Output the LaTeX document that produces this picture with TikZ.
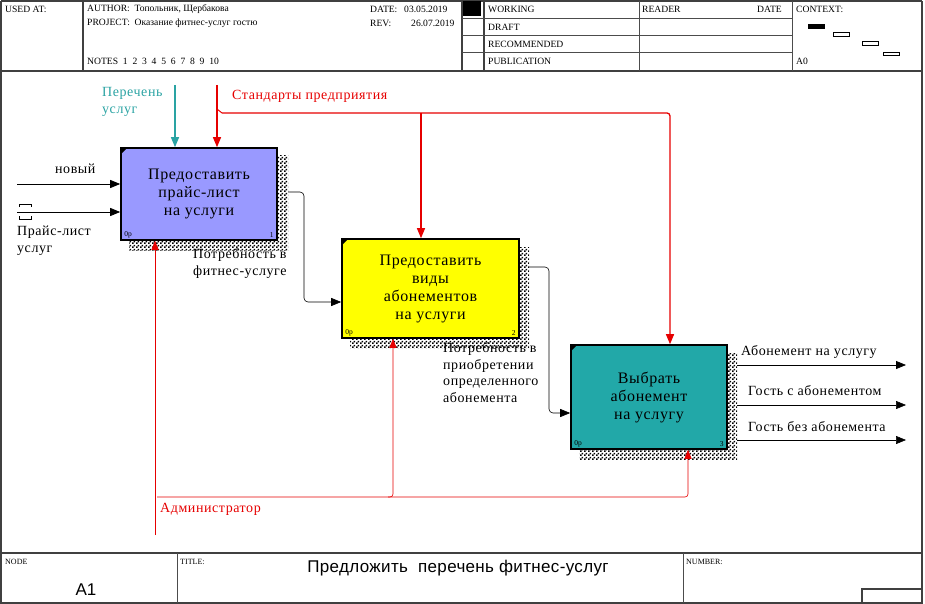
\documentclass[tikz,border=0pt]{standalone}
\usepackage{fontspec}
\setmainfont{Liberation Serif}
\newfontfamily\arialf{Liberation Sans}
\usetikzlibrary{arrows.meta,patterns.meta}
\definecolor{boxA}{HTML}{9999FF}
\definecolor{boxB}{HTML}{FFFF00}
\definecolor{boxC}{HTML}{22A8A8}
\definecolor{tealtxt}{HTML}{2AA3A3}
\definecolor{redc}{HTML}{E60000}
\tikzdeclarepattern{
  name=chk,
  type=uncolored,
  bounding box={(0pt,0pt) and (4pt,4pt)},
  tile size={(4pt,4pt)},
  code={\fill (0pt,0pt) rectangle (2pt,2pt); \fill (2pt,2pt) rectangle (4pt,4pt);}
}
\tikzset{
  frm/.style={draw=black!75, line width=1.2pt},
  thin/.style={draw=black!70, line width=0.6pt},
  hdr/.style={anchor=west, inner sep=0pt, font=\fontsize{9.6}{11}\selectfont},
  proc/.style={draw=black, line width=1.6pt, align=center, inner sep=0pt,
     font=\fontsize{16}{18}\selectfont\addfontfeatures{LetterSpace=4}},
  arr/.style={-{Triangle[length=10pt,width=8pt]}, line width=0.8pt},
  ctl/.style={-{Triangle[length=10pt,width=8pt]}, line width=1.3pt, draw=redc, color=redc},
  mech/.style={line width=0.6pt, draw=redc!85},
  mecharr/.style={mech, -{Triangle[length=9pt,width=7pt]}, color=redc},
  lbl/.style={inner sep=0pt, align=left, font=\fontsize{14}{16.8}\selectfont\addfontfeatures{LetterSpace=4}},
  small/.style={inner sep=0pt, font=\fontsize{7.5}{8}\selectfont}
}
\begin{document}
\begin{tikzpicture}[x=1pt,y=-1pt]
\useasboundingbox (0,0) rectangle (925,604);
% ---------- frame ----------
\draw[frm] (1,1) -- (922,1);
\draw[frm] (1,1) -- (1,604);
\draw[frm] (922,1) -- (922,604);
\draw[frm] (1,71) -- (922,71);
\draw[frm] (83,1) -- (83,71);
\draw[frm] (462,1) -- (462,71);
\draw[frm] (484,1) -- (484,71);
\draw[thin] (639,1) -- (639,71);
\draw[thin] (792,1) -- (792,71);
\foreach \yy in {18,35,52} \draw[thin] (462,\yy) -- (792,\yy);
\fill (463,1) rectangle (481,16);
% context
\fill (808,24) rectangle (825,29);
\draw[line width=0.8pt] (833,32) rectangle (849,36);
\draw[line width=0.8pt] (862,41) rectangle (878,45);
\draw[line width=0.8pt] (883,52) rectangle (899,55);
% header texts
\node[hdr] (usedat) at (5,9) {USED AT:};
\node[hdr] (author) at (87,9) {AUTHOR:\ \ Топольник, Щербакова};
\node[hdr] (project) at (87,23) {PROJECT:\ \ Оказание фитнес-услуг гостю};
\node[hdr] (notes) at (87,61) {NOTES\ \ 1\ \ 2\ \ 3\ \ 4\ \ 5\ \ 6\ \ 7\ \ 8\ \ 9\ \ 10};
\node[hdr] (date) at (370,9) {DATE:};
\node[hdr] (dateval) at (404,9) {03.05.2019};
\node[hdr] (rev) at (370,23) {REV:};
\node[hdr] (revval) at (411,23) {26.07.2019};
\node[hdr] (working) at (488,9) {WORKING};
\node[hdr] (draft) at (488,27) {DRAFT};
\node[hdr] (recom) at (488,44) {RECOMMENDED};
\node[hdr] (publ) at (488,61) {PUBLICATION};
\node[hdr] (reader) at (642,9) {READER};
\node[hdr] (rdate) at (757,9) {DATE};
\node[hdr] (context) at (796,9) {CONTEXT:};
\node[hdr] (a0) at (796,61) {A0};
% ---------- footer ----------
\draw[frm] (1,553) -- (922,553);
\draw[frm] (1,603) -- (922,603);
\draw[thin] (177,553) -- (177,603);
\draw[thin] (683,553) -- (683,603);
\draw[frm] (862,603) -- (862,589) -- (922,589);
\node[hdr, font=\fontsize{8}{9}\selectfont] (nodelbl) at (5,562) {NODE};
\node[hdr, font=\fontsize{8}{9}\selectfont] (titlelbl) at (180,562) {TITLE:};
\node[hdr, font=\fontsize{8}{9}\selectfont] (numlbl) at (686,562) {NUMBER:};
\node[inner sep=0pt, font=\arialf\fontsize{17}{20}\selectfont] (a1) at (86,590) {A1};
\node[inner sep=0pt, font=\arialf\fontsize{17}{20}\selectfont\addfontfeatures{LetterSpace=2}] (title) at (458,568) {Предложить\ \ перечень фитнес-услуг};
% ---------- shadows ----------
\fill[pattern=chk] (129,156) rectangle (288,250);
\fill[pattern=chk] (350,247) rectangle (529,348);
\fill[pattern=chk] (579,353) rectangle (737,459);
% ---------- boxes ----------
\node[proc, fill=boxA, minimum width=156pt, minimum height=92pt] (b1) at (199,194)
  {Предоставить\\прайс-лист\\на услуги};
\node[proc, fill=boxB, minimum width=177pt, minimum height=99pt] (b2) at (430.5,288.5)
  {Предоставить\\виды\\абонементов\\на услуги};
\node[proc, fill=boxC, minimum width=156pt, minimum height=104pt] (b3) at (649,397)
  {Выбрать\\абонемент\\на услугу};
\foreach \b/\n in {b1/1,b2/2,b3/3}{
  \fill ([shift={(0.8,0.8)}]\b.north west) -- ++(6,0) -- ++(-6,6) -- cycle;
  \node[small, anchor=south west] at ([shift={(4,-3)}]\b.south west) {0р};
  \node[small, anchor=south east] at ([shift={(-4,-3)}]\b.south east) {\n};
}
% ---------- inputs ----------
\coordinate (in1) at (17,184);
\coordinate (in2) at (17,212);
\draw[arr] (in1) -- (b1.west |- in1);
\draw[arr] (in2) -- (b1.west |- in2);
\draw[line width=0.8pt] (19,207) -- (19,204) -- (31,204) -- (31,207);
\draw[line width=0.8pt] (19,216) -- (19,219) -- (31,219) -- (31,216);
\node[lbl, anchor=base west] (lnew) at (55,174) {новый};
\node[lbl, anchor=north west] (lprice) at (17,226) {Прайс-лист\\услуг};
% ---------- controls ----------
\coordinate (c1) at (175,85);
\coordinate (c2) at (217,85);
\draw[arr, draw=tealtxt, color=tealtxt, line width=1.3pt] (c1) -- (b1.north -| c1);
\draw[ctl] (c2) -- (b1.north -| c2);
\coordinate (cb) at (222,113);
\coordinate (cbr) at (670,113);
\draw[ctl, rounded corners=3] (cb) -- (cbr) -- (b3.north -| cbr);
\draw[ctl] (cb -| 421,0) -- (b2.north -| 421,0);
\draw[redc, line width=1pt] (217,109) -- (222,113);
\node[lbl, anchor=north west, color=tealtxt] (lper) at (102,87) {Перечень\\услуг};
\node[lbl, anchor=base west, color=redc] (lstd) at (232,100) {Стандарты предприятия};
% ---------- outputs ----------
\coordinate (o1) at (288,192);
\draw[arr, line width=0.6pt, rounded corners=4] (o1) -- (304,192) -- (304,302) -- (b2.west |- 0,302);
\node[lbl, anchor=north west] (lneed1) at (193,248) {Потребность в\\фитнес-услуге};
\coordinate (o2) at (529,267);
\draw[arr, line width=0.6pt, rounded corners=4] (o2) -- (549,267) -- (549,413) -- (b3.west |- 0,413);
\node[lbl, anchor=north west] (lneed2) at (443,342) {Потребность в\\приобретении\\определенного\\абонемента};
\coordinate (e1) at (906,365);
\coordinate (e2) at (906,405);
\coordinate (e3) at (906,440);
\draw[arr] (737,365) -- (e1);
\draw[arr, line width=0.6pt] (737,405) -- (e2);
\draw[arr, line width=0.6pt] (737,440) -- (e3);
\node[lbl, anchor=base west] (lab1) at (741,355) {Абонемент на услугу};
\node[lbl, anchor=base west] (lab2) at (748,395) {Гость с абонементом};
\node[lbl, anchor=base west] (lab3) at (748,431) {Гость без абонемента};
% ---------- mechanism ----------
\coordinate (m0) at (155,535);
\coordinate (mh) at (157,497);
\draw[mecharr] (m0) -- (b1.south -| m0);
\draw[mecharr, rounded corners=3] (mh) -- (688,497) -- (b3.south -| 688,0);
\draw[mecharr, rounded corners=3] (388,497) -- (393,497) -- (b2.south -| 393,0);
\node[lbl, anchor=base west, color=redc] (ladm) at (160,512) {Администратор};
\end{tikzpicture}
\end{document}
